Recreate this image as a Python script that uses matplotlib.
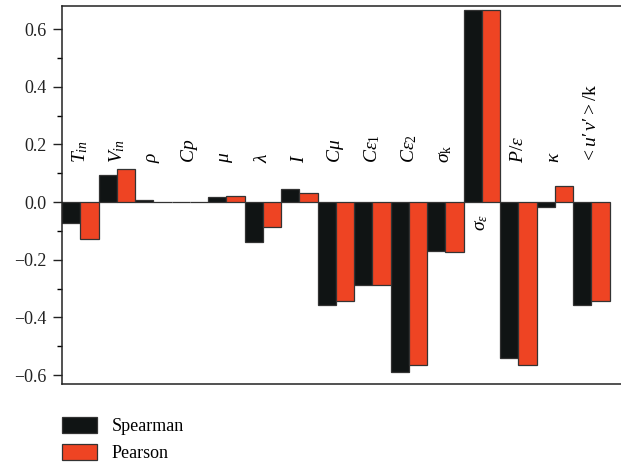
import numpy as np
import matplotlib
matplotlib.use('Agg')
import matplotlib.pyplot as plt
from matplotlib.ticker import FuncFormatter

plt.rcParams['font.family'] = ['Liberation Serif', 'DejaVu Serif']
plt.rcParams['mathtext.fontset'] = 'custom'
plt.rcParams['mathtext.rm'] = 'Liberation Serif'
plt.rcParams['mathtext.it'] = 'Liberation Serif:italic'
plt.rcParams['mathtext.bf'] = 'Liberation Serif:bold'

params = [r'$T_{in}$', r'$V_{in}$', r'$\rho$', r'$Cp$', r'$\mu$', r'$\lambda$', r'$I$',
          r'$C\mu$', r'$C\varepsilon_1$', r'$C\varepsilon_2$', r'$\sigma_\mathrm{k}$',
          r'$\sigma_\varepsilon$', r'$P/\varepsilon$', r'$\kappa$',
          '$<u\u2032\\,v\u2032>/\\mathrm{k}$']
spearman = [-0.072, 0.095, 0.007, 0.0, 0.017, -0.139, 0.045,
            -0.357, -0.288, -0.590, -0.169, 0.666, -0.540, -0.018, -0.358]
pearson = [-0.127, 0.116, 0.0, 0.0, 0.020, -0.088, 0.032,
           -0.343, -0.288, -0.565, -0.172, 0.666, -0.565, 0.055, -0.343]

black = '#101414'
red = '#ee4423'

fig = plt.figure(figsize=(6.21, 4.65), dpi=100)
ax = fig.add_axes([62 / 621, 81 / 465, 1 - 62 / 621, 378 / 465])

x = np.arange(len(params))
b1 = ax.bar(x - 0.25, spearman, width=0.5, color=black, edgecolor='#333333',
            linewidth=0.9, label='Spearman')
b2 = ax.bar(x + 0.25, pearson, width=0.5, color=red, edgecolor='#333333',
            linewidth=0.9, label='Pearson')

# parameter names above the bars, sigma_eps goes under the zero line
for i, name in enumerate(params):
    if spearman[i] > 0.3:
        ax.text(i, -0.04, name, rotation=90, ha='center', va='top', fontsize=14)
    else:
        ax.text(i, 0.135, name, rotation=90, ha='center', va='bottom', fontsize=14)

ax.set_xlim(-0.5, -0.5 + 559 / 36.5)
ax.set_ylim(-0.631, 0.68)
ax.set_xticks([])
ax.set_yticks([-0.6, -0.4, -0.2, 0.0, 0.2, 0.4, 0.6])
ax.set_yticks(np.arange(-0.5, 0.6, 0.2), minor=True)
ax.yaxis.set_major_formatter(FuncFormatter(lambda v, p: f'{v:.1f}'.replace('-', '\u2212')))
ax.tick_params(axis='y', which='major', length=6.3, width=1, pad=5,
               labelsize=13, colors='#222222')
ax.tick_params(axis='y', which='minor', length=3.4, width=1)
ax.spines['right'].set_visible(False)
for s in ['left', 'top', 'bottom']:
    ax.spines[s].set_linewidth(1.1)
    ax.spines[s].set_color('#222222')

fig.legend(handles=[b1, b2], loc='upper left', bbox_to_anchor=(62 / 621, 1 - 417 / 465),
           frameon=False, fontsize=13, borderpad=0, borderaxespad=0,
           handlelength=1.95, handleheight=0.95, handletextpad=0.8, labelspacing=0.5)

fig.savefig('out.png', dpi=100)
